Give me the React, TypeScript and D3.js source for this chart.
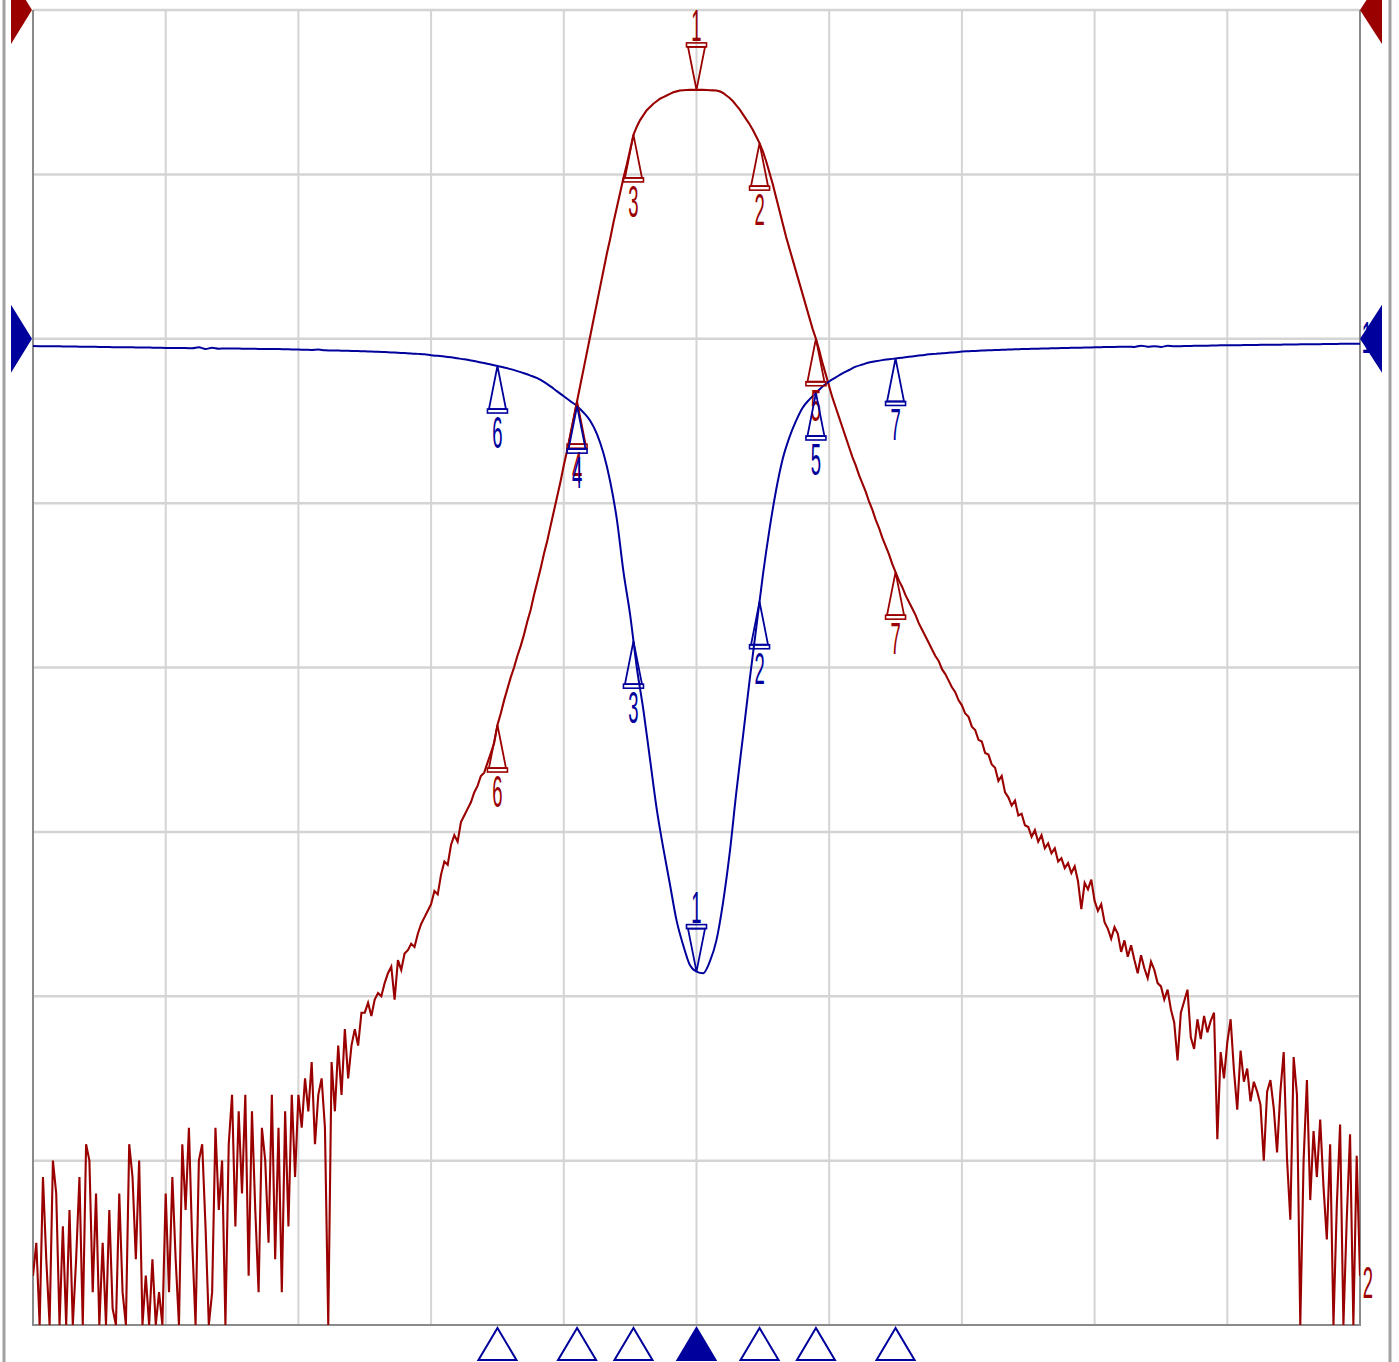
import React, { useRef, useEffect } from 'react';
import * as d3 from 'd3';

const WIDTH = 1399;
const HEIGHT = 1362;

// Trace 2 (transmission), 401 sweep points, dB
const TRACE2_DB = [
  -77, -75, -80, -71, -76, -80, -70, -72, -80, -74, -80, -73, -80, -76, -71, -80, -69, -70, -78, -72,
  -80, -75, -80, -73, -79, -80, -72, -78, -80, -69, -71, -76, -70, -80, -77, -80, -76, -80, -78, -80,
  -72, -78, -71, -76, -80, -69, -73, -68, -75, -80, -70, -69, -74, -80, -78, -68, -73, -70, -80, -69,
  -66, -74, -67, -72, -66, -77, -67, -73, -78, -68, -70, -75, -66, -76, -68, -78, -67, -74, -66, -71,
  -66, -68, -65, -67, -64, -69, -66, -65, -68, -80, -64, -67, -63, -66, -62, -65, -63, -62, -63, -61,
  -61, -60.4, -61.2, -60.2, -59.8, -60, -59.2, -58.6, -58.2, -60.2, -57.8, -58.4, -57.4, -57.2, -56.8, -57, -56.2, -55.6, -55.2, -54.8,
  -54.4, -53.6, -53.8, -52.6, -51.8, -52, -50.8, -50.2, -50.6, -49.4, -49, -48.6, -48.2, -47.6, -47.2, -46.6, -46.4, -45.8, -45.2, -44.6,
  -43.5, -42.8, -42, -41.3, -40.6, -40, -39.3, -38.7, -38, -37.2, -36.5, -35.6, -34.8, -34, -33.1, -32.3, -31.4, -30.5, -29.6, -28.7,
  -27.7, -26.8, -25.8, -24.8, -23.8, -22.8, -21.8, -20.8, -19.8, -18.8, -17.8, -16.8, -15.8, -14.8, -13.9, -12.9, -12, -11.1, -10.2, -9.4,
  -8.5, -7.6, -7.1, -6.7, -6.4, -6.1, -5.9, -5.7, -5.55, -5.4, -5.3, -5.2, -5.1, -5.0, -4.95, -4.9, -4.88, -4.87, -4.86, -4.86,
  -4.86, -4.86, -4.86, -4.87, -4.88, -4.89, -4.9, -4.95, -5.05, -5.2, -5.35, -5.55, -5.8, -6.05, -6.35, -6.65, -6.95, -7.3, -7.7, -8.1,
  -8.6, -9.2, -9.9, -10.6, -11.4, -12.2, -13, -13.8, -14.5, -15.2, -15.9, -16.6, -17.3, -18, -18.7, -19.4, -20, -20.7, -21.5, -22.2,
  -22.9, -23.6, -24.2, -24.8, -25.4, -26, -26.6, -27.2, -27.7, -28.3, -28.8, -29.3, -29.9, -30.4, -31, -31.5, -32.1, -32.6, -33.1, -33.7,
  -34.2, -34.7, -35.1, -35.6, -36, -36.4, -36.8, -37.3, -37.7, -38.1, -38.5, -38.9, -39.3, -39.6, -40.1, -40.4, -40.8, -41.2, -41.5, -42,
  -42.3, -42.8, -43, -43.6, -43.8, -44.4, -44.5, -45.2, -45.3, -45.9, -46.1, -46.9, -46.6, -47.6, -47.9, -48.4, -48.1, -49, -48.9, -49.6,
  -49.7, -50.3, -49.9, -50.6, -50.2, -51, -50.7, -51.3, -51, -51.8, -51.6, -52.2, -51.9, -52.5, -52.1, -53, -54.7, -53.1, -53.5, -52.9,
  -54.2, -54.8, -54.4, -55.5, -55.9, -56.5, -55.8, -56.2, -57.3, -56.6, -57.6, -56.9, -57.8, -58.6, -57.5, -58.3, -58.9, -57.9, -58.4, -59.2,
  -59.4, -60.2, -59.6, -60.8, -61.6, -63.9, -61, -60.3, -59.6, -62.5, -63.2, -61.4, -62.6, -61.2, -62.2, -61.5, -61, -68.7, -63.4, -65,
  -62.8, -61.4, -64.5, -66.9, -63.3, -65.2, -64.4, -66.4, -65.2, -65.8, -66.6, -70, -65.8, -65.1, -66.8, -69.5, -65.8, -63.4, -69.9, -73.6,
  -63.7, -66, -80, -70, -65.1, -72.4, -68.2, -71, -67.5, -71.6, -74.8, -69, -80, -72.8, -67.8, -80, -73.6, -68.4, -80, -69.7,
  -77,
];

// Trace 1 (reflection), every second sweep point, dB
const TRACE1_DB = [
  -20.44, -20.45, -20.45, -20.46, -20.46, -20.47, -20.47, -20.48, -20.48, -20.49, -20.5, -20.5, -20.51, -20.51, -20.52, -20.52, -20.53, -20.53, -20.54, -20.55,
  -20.56, -20.56, -20.57, -20.57, -20.58, -20.52, -20.62, -20.55, -20.61, -20.59, -20.6, -20.6, -20.61, -20.61, -20.62, -20.62, -20.63, -20.63, -20.64, -20.65,
  -20.66, -20.67, -20.68, -20.66, -20.7, -20.71, -20.72, -20.73, -20.74, -20.75, -20.76, -20.78, -20.79, -20.81, -20.83, -20.85, -20.87, -20.89, -20.92, -20.95,
  -21.0, -21.04, -21.08, -21.13, -21.19, -21.25, -21.32, -21.4, -21.48, -21.57, -21.66, -21.75, -21.85, -21.97, -22.1, -22.24, -22.4, -22.62, -22.9, -23.2,
  -23.5, -23.8, -24.1, -24.5, -25.0, -25.8, -27.0, -28.7, -31.0, -34.2, -36.8, -40, -42.6, -45.6, -48.6, -51, -53.2, -55.4, -56.9, -58.1,
  -58.5, -58.6, -57.9, -56.6, -54.3, -51.3, -47.6, -44.2, -40.8, -37.6, -34.4, -31.6, -29.2, -27.3, -26, -25, -24.2, -23.7, -23.3, -22.9,
  -22.6, -22.35, -22.1, -21.9, -21.7, -21.57, -21.45, -21.37, -21.3, -21.25, -21.2, -21.15, -21.1, -21.05, -21.0, -20.95, -20.92, -20.88, -20.85, -20.82,
  -20.78, -20.76, -20.74, -20.72, -20.7, -20.69, -20.67, -20.66, -20.64, -20.63, -20.62, -20.61, -20.6, -20.59, -20.58, -20.57, -20.56, -20.55, -20.54, -20.53,
  -20.52, -20.51, -20.5, -20.5, -20.49, -20.48, -20.5, -20.42, -20.48, -20.45, -20.5, -20.43, -20.46, -20.45, -20.44, -20.43, -20.42, -20.42, -20.41, -20.4,
  -20.4, -20.39, -20.39, -20.38, -20.38, -20.37, -20.37, -20.36, -20.36, -20.35, -20.35, -20.34, -20.34, -20.33, -20.33, -20.32, -20.32, -20.31, -20.31, -20.3,
  -20.3,
];

// marker sweep point index, markers 1..7
const MARKER_POINTS = [200, 219, 181, 164, 236, 140, 260];
const MARKER_LABELS = ['1', '2', '3', '4', '5', '6', '7'];
const ACTIVE_MARKER = 0;

const X_DIVISIONS = d3.range(0, 401, 40);
const Y_DIVISIONS = d3.range(0, -81, -10);
const REF_TRACE2 = 0;
const REF_TRACE1 = -20;

const RED = '#9a0000';
const BLUE = '#00009c';
const GRID = '#d4d4d4';
const FRAME = '#8a8a8a';

function valueAt(series, step, idx) {
  const p = idx / step;
  const lo = Math.floor(p);
  const hi = Math.min(Math.ceil(p), series.length - 1);
  return series[lo] + (series[hi] - series[lo]) * (p - lo);
}

function drawLabel(g, x, baseline, text, color) {
  g.append('text')
    .attr('transform', `translate(${x},${baseline}) scale(0.42,1)`)
    .attr('text-anchor', 'middle')
    .attr('fill', color)
    .style('font-family', '"Liberation Sans", Arial, sans-serif')
    .style('font-size', '44px')
    .text(text);
}

function drawMarker(g, x, y, label, color, down) {
  const s = down ? -1 : 1;
  g.append('path')
    .attr('d', `M${x},${y} L${x - 8.5},${y + s * 43} L${x + 8.5},${y + s * 43} Z`)
    .attr('fill', 'none')
    .attr('stroke', color)
    .attr('stroke-width', 1.8);
  g.append('rect')
    .attr('x', x - 10)
    .attr('y', down ? y - 47 : y + 43)
    .attr('width', 20)
    .attr('height', 4)
    .attr('fill', 'none')
    .attr('stroke', color)
    .attr('stroke-width', 1.6);
  drawLabel(g, x, down ? y - 49 : y + 82, label, color);
}

export default function App() {
  const svgRef = useRef(null);

  useEffect(() => {
    const svg = d3.select(svgRef.current);
    svg.selectAll('*').remove();

    const x = d3.scaleLinear().domain([0, 400]).range([33, 1360]);
    const y = d3.scaleLinear().domain([0, -80]).range([10, 1325]);

    svg.append('rect').attr('width', WIDTH).attr('height', HEIGHT).attr('fill', '#fff');

    // outer window edges
    svg.append('line').attr('x1', 4).attr('x2', 4).attr('y1', 0).attr('y2', HEIGHT)
      .attr('stroke', '#a2a2a2').attr('stroke-width', 3);
    svg.append('line').attr('x1', 1390).attr('x2', 1390).attr('y1', 0).attr('y2', HEIGHT)
      .attr('stroke', '#a2a2a2').attr('stroke-width', 3);

    // grid
    const grid = svg.append('g');
    grid.selectAll('line.v')
      .data(X_DIVISIONS.slice(1, -1))
      .join('line')
      .attr('class', 'v')
      .attr('x1', d => x(d)).attr('x2', d => x(d))
      .attr('y1', y(0)).attr('y2', y(-80))
      .attr('stroke', GRID).attr('stroke-width', 2);
    grid.selectAll('line.h')
      .data(Y_DIVISIONS.slice(0, -1))
      .join('line')
      .attr('class', 'h')
      .attr('x1', x(0)).attr('x2', x(400))
      .attr('y1', d => y(d)).attr('y2', d => y(d))
      .attr('stroke', GRID).attr('stroke-width', 2.5);

    // frame
    svg.append('path')
      .attr('d', `M${x(0)},${y(0)} V${y(-80)} H${x(400)} V${y(0)}`)
      .attr('fill', 'none')
      .attr('stroke', FRAME)
      .attr('stroke-width', 2);

    svg.append('clipPath').attr('id', 'plot-clip')
      .append('rect')
      .attr('x', x(0)).attr('y', 0)
      .attr('width', x(400) - x(0)).attr('height', y(-80) + 1);

    const traces = svg.append('g').attr('clip-path', 'url(#plot-clip)');

    const line2 = d3.line<number>()
      .x((d, i) => x(i))
      .y(d => y(d));
    traces.append('path')
      .attr('d', line2(TRACE2_DB))
      .attr('fill', 'none')
      .attr('stroke', RED)
      .attr('stroke-width', 2.1)
      .attr('stroke-linejoin', 'miter');

    const line1 = d3.line<number>()
      .x((d, i) => x(i * 2))
      .y(d => y(d))
      .curve(d3.curveMonotoneX);
    traces.append('path')
      .attr('d', line1(TRACE1_DB))
      .attr('fill', 'none')
      .attr('stroke', BLUE)
      .attr('stroke-width', 2);

    // markers on traces
    const markers = svg.append('g');
    MARKER_POINTS.forEach((p, k) => {
      drawMarker(markers, x(p), y(valueAt(TRACE2_DB, 1, p)), MARKER_LABELS[k], RED, k === 0);
    });
    MARKER_POINTS.forEach((p, k) => {
      drawMarker(markers, x(p), y(valueAt(TRACE1_DB, 2, p)), MARKER_LABELS[k], BLUE, k === 0);
    });

    // trace numbers
    drawLabel(svg, x(400) + 8, 1298, '2', RED);
    drawLabel(svg, x(400) + 7, y(REF_TRACE1) + 14, '1', BLUE);

    // reference level arrows
    const refArrow = (level, color) => {
      const yy = y(level);
      svg.append('path')
        .attr('d', `M${x(0) - 1},${yy} L${x(0) - 22},${yy - 34} L${x(0) - 22},${yy + 34} Z`)
        .attr('fill', color);
      svg.append('path')
        .attr('d', `M${x(400)},${yy} L${x(400) + 22},${yy - 34} L${x(400) + 22},${yy + 34} Z`)
        .attr('fill', color);
    };
    refArrow(REF_TRACE2, RED);
    refArrow(REF_TRACE1, BLUE);

    // marker position bar below the grid
    const bar = svg.append('g');
    bar.selectAll('path')
      .data(MARKER_POINTS)
      .join('path')
      .attr('d', d => `M${x(d)},${y(-80) + 3} L${x(d) - 19},${y(-80) + 35} L${x(d) + 19},${y(-80) + 35} Z`)
      .attr('fill', (d, k) => (k === ACTIVE_MARKER ? BLUE : '#fff'))
      .attr('stroke', BLUE)
      .attr('stroke-width', 2);
  }, []);

  return (
    <div style={{ position: 'absolute', left: 0, top: 0, width: WIDTH, height: HEIGHT, background: '#fff' }}>
      <svg ref={svgRef} width={WIDTH} height={HEIGHT} style={{ display: 'block' }} />
    </div>
  );
}
